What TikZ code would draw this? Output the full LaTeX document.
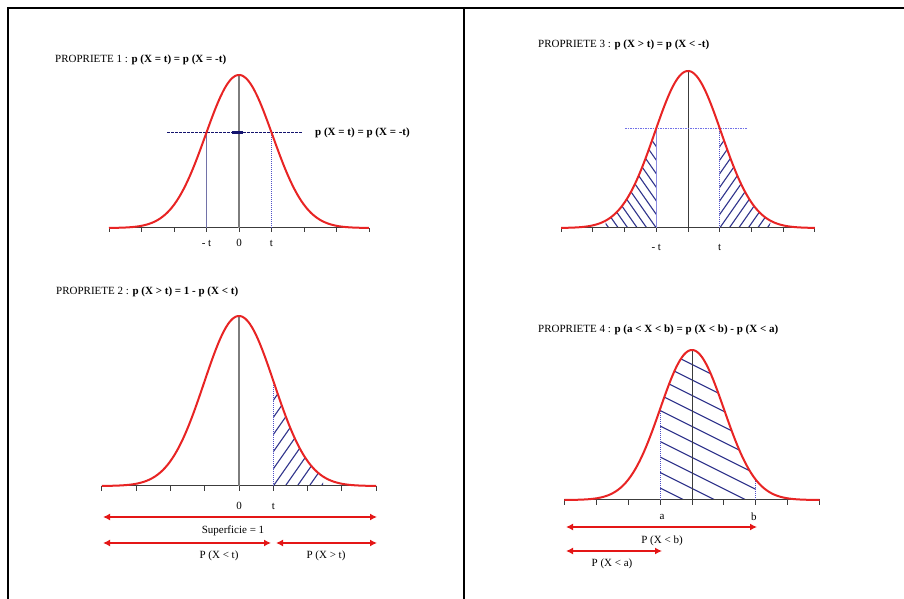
\documentclass[tikz,border=0pt]{standalone}
\usepackage{fontspec}
\setmainfont{Liberation Serif}
\usetikzlibrary{arrows.meta}
\definecolor{curvered}{RGB}{232,36,36}
\definecolor{arrred}{RGB}{228,22,22}
\definecolor{hatchblue}{RGB}{48,52,140}
\definecolor{navyb}{RGB}{20,20,110}
\definecolor{dotblue}{RGB}{80,80,200}
\definecolor{lightblue}{RGB}{140,140,225}
\definecolor{greyline}{RGB}{125,125,125}
\definecolor{darkline}{RGB}{60,60,60}
\begin{document}
\begin{tikzpicture}[x=1pt,y=1pt,
  font=\fontsize{11}{13}\selectfont,
  txt/.style={inner sep=0pt},
  curve/.style={draw=curvered,line width=2pt},
  axisline/.style={draw=darkline,line width=1pt},
  centerg/.style={draw=greyline,line width=1.2pt},
  centerd/.style={draw=darkline,line width=1pt},
  dotv/.style={draw=dotblue,line width=1pt,dash pattern=on 1pt off 1pt},
  thinv/.style={draw=lightblue,line width=1pt},
  hatchline/.style={draw=hatchblue,line width=1.1pt},
  redarr/.style={draw=arrred,line width=2.5pt,arrows={Latex[length=7pt,width=7pt]-Latex[length=7pt,width=7pt]}},
  frameline/.style={draw=black,line width=2pt}]
\useasboundingbox (0,0) rectangle (904,599);
\fill[white] (0,0) rectangle (904,599);
% frame
\draw[frameline] (8,0) -- (8,591) -- (904,591);
\draw[frameline] (464,0) -- (464,591);

% ================= PANEL 1 =================
\node[txt,anchor=west] (title1) at (55,539) {PROPRIETE 1 : \textbf{p (X = t) = p (X = -t)}};
\begin{scope}[shift={(239,371)}]
  \def\unitp{32.5}\def\hgt{153}\def\sig{1.03}
  \pgfmathsetmacro\hlev{\hgt*exp(-1/(2*\sig*\sig))}
  \draw[axisline] (-4*\unitp,0) -- (4*\unitp,0);
  \foreach \k in {-4,...,4} \draw[axisline] (\k*\unitp,0) -- (\k*\unitp,-4);
  \draw[centerg] (0,0) -- (0,\hgt);
  \draw[draw=navyb!60!white,line width=0.9pt] (-\unitp,0) -- (-\unitp,\hlev);
  \draw[dotv] (\unitp,0) -- (\unitp,\hlev);
  \draw[draw=navyb,line width=1pt,dash pattern=on 2.5pt off 1.5pt] (-72,\hlev) -- (63,\hlev);
  \fill[navyb] (-7,\hlev-1.8) rectangle (4,\hlev+1.8);
  \draw[curve] plot[domain=-4:4,samples=140,smooth] ({\x*\unitp},{\hgt*exp(-\x*\x/(2*\sig*\sig))});
  \node[txt,anchor=west] (eq1) at (76,\hlev) {\textbf{p (X = t) = p (X = -t)}};
  \node[txt] (mt1) at (-\unitp,-15) {- t};
  \node[txt] (z1) at (0,-15) {0};
  \node[txt] (t1) at (\unitp,-15) {t};
\end{scope}

% ================= PANEL 3 =================
\node[txt,anchor=west] (title3) at (538,554) {PROPRIETE 3 : \textbf{p (X > t) = p (X < -t)}};
\begin{scope}[shift={(688,371)}]
  \def\unitp{31.7}\def\hgt{157}\def\sig{1.05}
  \pgfmathsetmacro\hlev{\hgt*exp(-1/(2*\sig*\sig))}
  \begin{scope}
    \clip plot[domain=-2.6:-1,samples=60] ({\x*\unitp},{\hgt*exp(-\x*\x/(2*\sig*\sig))}) -- (-\unitp,0) -- (-2.6*\unitp,0) -- cycle;
    \foreach \k in {-6,...,8} \draw[hatchline] ({-\unitp+9.5*\k},0) -- ++(125:130);
  \end{scope}
  \begin{scope}
    \clip plot[domain=1:2.6,samples=60] ({\x*\unitp},{\hgt*exp(-\x*\x/(2*\sig*\sig))}) -- (2.6*\unitp,0) -- (\unitp,0) -- cycle;
    \foreach \k in {-8,...,6} \draw[hatchline] ({\unitp+9.5*\k},0) -- ++(55:130);
  \end{scope}
  \draw[axisline] (-4*\unitp,0) -- (4*\unitp,0);
  \foreach \k in {-4,...,4} \draw[axisline] (\k*\unitp,0) -- (\k*\unitp,-4);
  \draw[centerd] (0,0) -- (0,\hgt);
  \draw[thinv] (-\unitp,0) -- (-\unitp,\hlev);
  \draw[dotv] (\unitp,0) -- (\unitp,\hlev);
  \draw[draw=lightblue!80!blue,line width=1.1pt,dash pattern=on 1.5pt off 1pt] (-63,\hlev) -- (59,\hlev);
  \draw[curve] plot[domain=-4:4,samples=140,smooth] ({\x*\unitp},{\hgt*exp(-\x*\x/(2*\sig*\sig))});
  \node[txt] (mt3) at (-\unitp,-19) {- t};
  \node[txt] (t3) at (\unitp,-19) {t};
\end{scope}

% ================= PANEL 2 =================
\node[txt,anchor=west] (title2) at (56,307) {PROPRIETE 2 : \textbf{p (X > t) = 1 - p (X < t)}};
\begin{scope}[shift={(239,113)}]
  \def\unitp{34.3}\def\hgt{170}\def\sig{1.02}
  \pgfmathsetmacro\hlev{\hgt*exp(-1/(2*\sig*\sig))}
  \begin{scope}
    \clip plot[domain=1:2.45,samples=60] ({\x*\unitp},{\hgt*exp(-\x*\x/(2*\sig*\sig))}) -- (2.45*\unitp,0) -- (\unitp,0) -- cycle;
    \foreach \k in {-8,...,5} \draw[hatchline] ({\unitp+12*\k},0) -- ++(55:160);
  \end{scope}
  \draw[axisline] (-4*\unitp,0) -- (4*\unitp,0);
  \foreach \k in {-4,...,4} \draw[axisline] (\k*\unitp,0) -- (\k*\unitp,-5);
  \draw[centerg] (0,0) -- (0,\hgt);
  \draw[dotv] (\unitp,0) -- (\unitp,\hlev);
  \draw[curve] plot[domain=-4:4,samples=140,smooth] ({\x*\unitp},{\hgt*exp(-\x*\x/(2*\sig*\sig))});
  \node[txt] (z2) at (0,-20) {0};
  \node[txt] (t2) at (\unitp,-20) {t};
\end{scope}
\coordinate (s1) at (103,82);
\coordinate (s2) at (377,82);
\draw[redarr] (s1) -- (s2);
\node[txt] (sup) at (233,68) {Superficie = 1};
\coordinate (l1) at (103,56);
\coordinate (l2) at (271,56);
\coordinate (r1) at (276,56);
\coordinate (r2) at (377,56);
\draw[redarr] (l1) -- (l2);
\draw[redarr] (r1) -- (r2);
\node[txt] (plt) at (219,43) {P (X < t)};
\node[txt] (pgt) at (326,43) {P (X > t)};

% ================= PANEL 4 =================
\node[txt,anchor=west] (title4) at (538,269) {PROPRIETE 4 : \textbf{p (a < X < b) = p (X < b) - p (X < a)}};
\begin{scope}[shift={(692,99)}]
  \def\unitp{31.9}\def\hgt{150}\def\sig{1.0}
  \pgfmathsetmacro\hlevA{\hgt*exp(-1/(2*\sig*\sig))}
  \pgfmathsetmacro\hlevB{\hgt*exp(-4/(2*\sig*\sig))}
  \begin{scope}
    \clip plot[domain=-1:2,samples=80] ({\x*\unitp},{\hgt*exp(-\x*\x/(2*\sig*\sig))}) -- (2*\unitp,0) -- (-\unitp,0) -- cycle;
    \foreach \k in {0,...,11} \draw[hatchline] (-\unitp,{12+15.5*\k}) -- ++(-26.57:260);
  \end{scope}
  \draw[axisline] (-4*\unitp,0) -- (4*\unitp,0);
  \foreach \k in {-4,...,4} \draw[axisline] (\k*\unitp,0) -- (\k*\unitp,-5);
  \draw[centerd] (0,0) -- (0,\hgt);
  \draw[dotv] (-\unitp,0) -- (-\unitp,\hlevA);
  \draw[dotv] (2*\unitp,0) -- (2*\unitp,\hlevB);
  \draw[curve] plot[domain=-4:4,samples=140,smooth] ({\x*\unitp},{\hgt*exp(-\x*\x/(2*\sig*\sig))});
  \node[txt] (a4) at (-\unitp+2,-17) {a};
  \node[txt] (b4) at (2*\unitp-2,-17) {b};
\end{scope}
\coordinate (pb1) at (566,72);
\coordinate (pb2) at (757,72);
\draw[redarr] (pb1) -- (pb2);
\node[txt] (plb) at (662,58) {P (X < b)};
\coordinate (pa1) at (566,48);
\coordinate (pa2) at (662,48);
\draw[redarr] (pa1) -- (pa2);
\node[txt] (pla) at (612,35) {P (X < a)};
\end{tikzpicture}
\end{document}
